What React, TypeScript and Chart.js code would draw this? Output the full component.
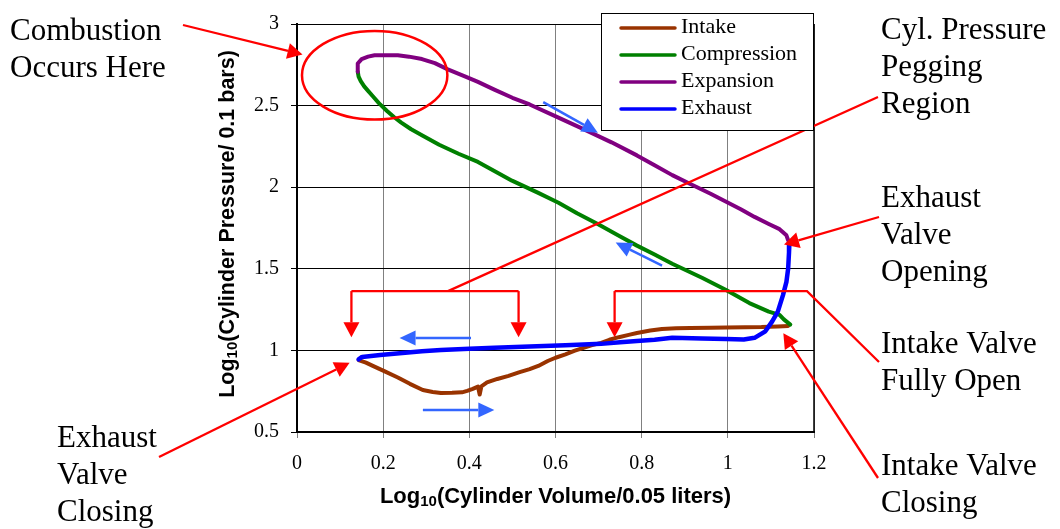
import { useEffect, useRef } from 'react';
import { Chart, registerables } from 'chart.js';

Chart.register(...registerables);

// ---- Data (log10 volume, log10 pressure) ----
const intake: [number, number][] = [
  [0.143, 0.941], [0.160, 0.925], [0.176, 0.905], [0.205, 0.870], [0.234, 0.834], [0.262, 0.795],
  [0.292, 0.757], [0.315, 0.745], [0.334, 0.739], [0.360, 0.740], [0.383, 0.743], [0.395, 0.752],
  [0.408, 0.764], [0.420, 0.778], [0.424, 0.730], [0.428, 0.780], [0.441, 0.804], [0.465, 0.825],
  [0.491, 0.844], [0.515, 0.865], [0.540, 0.885], [0.560, 0.905], [0.582, 0.935], [0.600, 0.955],
  [0.623, 0.976], [0.645, 0.998], [0.665, 1.016], [0.685, 1.032], [0.706, 1.046], [0.725, 1.065],
  [0.747, 1.081], [0.770, 1.095], [0.789, 1.107], [0.820, 1.122], [0.847, 1.131], [0.880, 1.135],
  [0.913, 1.137], [0.960, 1.139], [0.996, 1.141], [1.040, 1.142], [1.078, 1.143], [1.116, 1.147],
  [1.140, 1.150],
];

const compression: [number, number][] = [
  [1.145, 1.158], [1.130, 1.190], [1.120, 1.218], [1.095, 1.238], [1.050, 1.290], [0.996, 1.370],
  [0.940, 1.445], [0.871, 1.531], [0.830, 1.588], [0.789, 1.642], [0.745, 1.705], [0.698, 1.774],
  [0.650, 1.840], [0.607, 1.905], [0.560, 1.965], [0.499, 2.040], [0.458, 2.100], [0.420, 2.155],
  [0.375, 2.205], [0.330, 2.260], [0.292, 2.316], [0.265, 2.355], [0.242, 2.396], [0.225, 2.430],
  [0.209, 2.467], [0.190, 2.515], [0.176, 2.557], [0.165, 2.590], [0.156, 2.618], [0.148, 2.650],
  [0.143, 2.678], [0.141, 2.708],
];

const expansion: [number, number][] = [
  [0.141, 2.708], [0.141, 2.758], [0.150, 2.785], [0.165, 2.800], [0.180, 2.808], [0.200, 2.809],
  [0.234, 2.808], [0.260, 2.800], [0.290, 2.785], [0.320, 2.760], [0.350, 2.722], [0.391, 2.678],
  [0.420, 2.645], [0.458, 2.598], [0.500, 2.548], [0.540, 2.507], [0.598, 2.437], [0.665, 2.356],
  [0.730, 2.275], [0.789, 2.195], [0.830, 2.135], [0.871, 2.074], [0.913, 2.020], [0.960, 1.960],
  [1.004, 1.900], [1.030, 1.865], [1.062, 1.818], [1.095, 1.775], [1.120, 1.743], [1.136, 1.705],
  [1.140, 1.675],
];

const exhaust: [number, number][] = [
  [1.143, 1.660], [1.142, 1.600], [1.140, 1.501], [1.136, 1.420], [1.128, 1.339], [1.116, 1.238],
  [1.103, 1.178], [1.087, 1.117], [1.062, 1.077], [1.037, 1.067], [0.996, 1.070], [0.940, 1.073],
  [0.871, 1.077], [0.830, 1.065], [0.789, 1.057], [0.750, 1.050], [0.706, 1.040], [0.623, 1.032],
  [0.540, 1.024], [0.458, 1.016], [0.400, 1.010], [0.334, 1.002], [0.290, 0.995], [0.251, 0.986],
  [0.193, 0.972], [0.151, 0.960], [0.143, 0.945],
];

const seriesNames = ['Intake', 'Compression', 'Expansion', 'Exhaust'];
const seriesColors = ['#993300', '#008000', '#800080', '#0000FF'];

const X_MIN = 0, X_MAX = 1.2, X_STEP = 0.2;
const Y_MIN = 0.5, Y_MAX = 3, Y_STEP = 0.5;

const xTitle = [['Log', false], ['10', true], ['(Cylinder Volume/0.05 liters)', false]] as [string, boolean][];
const yTitle = [['Log', false], ['10', true], ['(Cylinder Pressure/ 0.1 bars)', false]] as [string, boolean][];

const notes: { lines: string[]; x: number; y: number }[] = [
  { lines: ['Combustion', 'Occurs Here'], x: 10, y: 40 },
  { lines: ['Cyl. Pressure', 'Pegging', 'Region'], x: 881, y: 39 },
  { lines: ['Exhaust', 'Valve', 'Opening'], x: 881, y: 207 },
  { lines: ['Intake Valve', 'Fully Open'], x: 881, y: 353 },
  { lines: ['Intake Valve', 'Closing'], x: 881, y: 475 },
  { lines: ['Exhaust', 'Valve', 'Closing'], x: 57, y: 447 },
];

const SERIF = "'Liberation Serif', 'Times New Roman', serif";
const SANS = "'Liberation Sans', Arial, sans-serif";

function drawArrow(ctx: CanvasRenderingContext2D, x1: number, y1: number, x2: number, y2: number,
  color: string, lw: number, hl: number, hw: number) {
  const a = Math.atan2(y2 - y1, x2 - x1);
  const bx = x2 - hl * Math.cos(a), by = y2 - hl * Math.sin(a);
  ctx.save();
  ctx.strokeStyle = color; ctx.fillStyle = color; ctx.lineWidth = lw;
  ctx.beginPath(); ctx.moveTo(x1, y1); ctx.lineTo(bx, by); ctx.stroke();
  ctx.beginPath();
  ctx.moveTo(x2, y2);
  ctx.lineTo(bx + hw * Math.sin(a), by - hw * Math.cos(a));
  ctx.lineTo(bx - hw * Math.sin(a), by + hw * Math.cos(a));
  ctx.closePath(); ctx.fill();
  ctx.restore();
}

function drawSubText(ctx: CanvasRenderingContext2D, parts: [string, boolean][], size: number) {
  const sub = Math.round(size * 0.68);
  let total = 0;
  const widths = parts.map(([t, s]) => {
    ctx.font = `bold ${s ? sub : size}px ${SANS}`;
    const w = ctx.measureText(t).width; total += w; return w;
  });
  let x = -total / 2;
  ctx.textBaseline = 'middle';
  ctx.textAlign = 'left';
  parts.forEach(([t, s], i) => {
    ctx.font = `bold ${s ? sub : size}px ${SANS}`;
    ctx.fillText(t, x, s ? size * 0.22 : 0);
    x += widths[i];
  });
}

const overlay = {
  id: 'overlay',
  afterDraw(chart: any) {
    const ctx: CanvasRenderingContext2D = chart.ctx;
    const xs = chart.scales.x, ys = chart.scales.y;
    const px = (v: number) => xs.getPixelForValue(v);
    const py = (v: number) => ys.getPixelForValue(v);
    const ca = chart.chartArea;
    ctx.save();

    ctx.strokeStyle = '#000'; ctx.lineWidth = 1.5;
    ctx.beginPath(); ctx.moveTo(ca.right, ca.top); ctx.lineTo(ca.right, ca.bottom); ctx.stroke();

    const RED = '#FF0000', BLUE = '#3366FF';
    ctx.strokeStyle = RED; ctx.lineWidth = 2.5;
    ctx.beginPath();
    const ecx = px(0.1803), ecy = py(2.686);
    ctx.ellipse(ecx, ecy, px(0.1803 + 0.1687) - ecx, py(2.686 - 0.2717) - ecy, 0, 0, Math.PI * 2);
    ctx.stroke();

    const RW = 2.3;
    drawArrow(ctx, 183, 25, px(0.0128), py(2.813), RED, RW, 15, 8);
    drawArrow(ctx, 879, 217, px(1.1304), py(1.6492), RED, RW, 15, 8);
    drawArrow(ctx, 878, 478, px(1.1288), py(1.1057), RED, RW, 15, 8);
    drawArrow(ctx, 159, 457, px(0.1221), py(0.9239), RED, RW, 15, 8);

    ctx.strokeStyle = RED; ctx.lineWidth = RW;
    ctx.beginPath();
    ctx.moveTo(878, 97); ctx.lineTo(px(0.3505), py(1.3635));
    ctx.moveTo(px(0.1263), py(1.3635)); ctx.lineTo(px(0.5143), py(1.3635));
    ctx.stroke();
    drawArrow(ctx, px(0.1263), py(1.3635), px(0.1263), py(1.08), RED, RW, 15, 8);
    drawArrow(ctx, px(0.5143), py(1.3635), px(0.5143), py(1.08), RED, RW, 15, 8);

    ctx.beginPath();
    ctx.moveTo(879, 362); ctx.lineTo(px(1.1838), py(1.3635)); ctx.lineTo(px(0.7372), py(1.3635));
    ctx.stroke();
    drawArrow(ctx, px(0.7372), py(1.3635), px(0.7372), py(1.08), RED, RW, 15, 8);

    drawArrow(ctx, px(0.5715), py(2.5211), px(0.6984), py(2.3339), BLUE, 2.5, 16, 7.5);
    drawArrow(ctx, px(0.8474), py(1.5193), px(0.7397), py(1.6606), BLUE, 2.5, 16, 7.5);
    drawArrow(ctx, px(0.4039), py(1.0755), px(0.2381), py(1.0755), BLUE, 2.5, 16, 7.5);
    drawArrow(ctx, px(0.2922), py(0.6353), px(0.458), py(0.6353), BLUE, 2.5, 16, 7.5);

    ctx.fillStyle = '#000';
    ctx.font = `31px ${SERIF}`;
    ctx.textAlign = 'left'; ctx.textBaseline = 'alphabetic';
    notes.forEach(n => n.lines.forEach((l, i) => ctx.fillText(l, n.x, n.y + i * 37)));

    const lx = 601, ly = 13, lw = 212, lh = 117;
    ctx.fillStyle = '#fff'; ctx.fillRect(lx, ly, lw, lh);
    ctx.strokeStyle = '#000'; ctx.lineWidth = 1;
    ctx.strokeRect(lx + 0.5, ly + 0.5, lw, lh);
    seriesNames.forEach((name, i) => {
      const yy = 28 + i * 27;
      ctx.strokeStyle = seriesColors[i]; ctx.lineWidth = 3.5; ctx.lineCap = 'round';
      ctx.beginPath(); ctx.moveTo(621, yy); ctx.lineTo(675, yy); ctx.stroke();
      ctx.fillStyle = '#000'; ctx.font = `22px ${SERIF}`;
      ctx.textBaseline = 'middle'; ctx.textAlign = 'left';
      ctx.fillText(name, 681, yy - 1);
    });

    ctx.fillStyle = '#000';
    ctx.save(); ctx.translate((ca.left + ca.right) / 2, 497); drawSubText(ctx, xTitle, 22); ctx.restore();
    ctx.save(); ctx.translate(228, (ca.top + ca.bottom) / 2 - 4); ctx.rotate(-Math.PI / 2); drawSubText(ctx, yTitle, 21.5); ctx.restore();

    ctx.restore();
  },
};

export default function App() {
  const ref = useRef<HTMLCanvasElement | null>(null);
  useEffect(() => {
    document.body.style.margin = '0';
    if (!ref.current) return;
    const toPts = (a: [number, number][]) => a.map(([x, y]) => ({ x, y }));
    const all = [intake, compression, expansion, exhaust];
    const chart = new Chart(ref.current, {
      type: 'scatter',
      data: {
        datasets: all.map((d, i) => ({
          label: seriesNames[i],
          data: toPts(d),
          showLine: true,
          borderColor: seriesColors[i],
          backgroundColor: seriesColors[i],
          borderWidth: i === 3 ? 4.5 : 4,
          pointRadius: 0,
          tension: 0,
          borderJoinStyle: 'round',
          borderCapStyle: 'round',
          order: i === 3 ? 0 : 4 - i,
        })) as any,
      },
      options: {
        animation: false,
        responsive: false,
        devicePixelRatio: 1,
        layout: { padding: { left: 0, right: 246, top: 18, bottom: 0 } },
        plugins: { legend: { display: false }, tooltip: { enabled: false } },
        scales: {
          x: {
            type: 'linear', min: X_MIN, max: X_MAX,
            afterFit: (s: any) => { s.height = 97; },
            ticks: {
              stepSize: X_STEP, color: '#000', padding: 14,
              font: { family: SERIF, size: 20 },
              callback: (v: any) => String(Number(Number(v).toFixed(1))),
            },
            grid: { color: '#808080', lineWidth: 1, tickLength: 6, tickColor: '#808080' },
            border: { display: true, color: '#000', width: 2 },
          },
          y: {
            type: 'linear', min: Y_MIN, max: Y_MAX,
            afterFit: (s: any) => { s.width = 297; },
            ticks: {
              stepSize: Y_STEP, color: '#000', padding: 12,
              font: { family: SERIF, size: 20 },
              callback: (v: any) => String(Number(Number(v).toFixed(1))),
            },
            grid: { color: '#000', lineWidth: 1, tickLength: 6, tickColor: '#000' },
            border: { display: true, color: '#000', width: 2 },
          },
        },
      } as any,
      plugins: [overlay],
    });
    return () => chart.destroy();
  }, []);
  return (
    <div style={{ position: 'absolute', left: 0, top: 0, width: 1060, height: 529, background: '#fff' }}>
      <canvas ref={ref} width={1060} height={529} style={{ display: 'block' }} />
    </div>
  );
}
